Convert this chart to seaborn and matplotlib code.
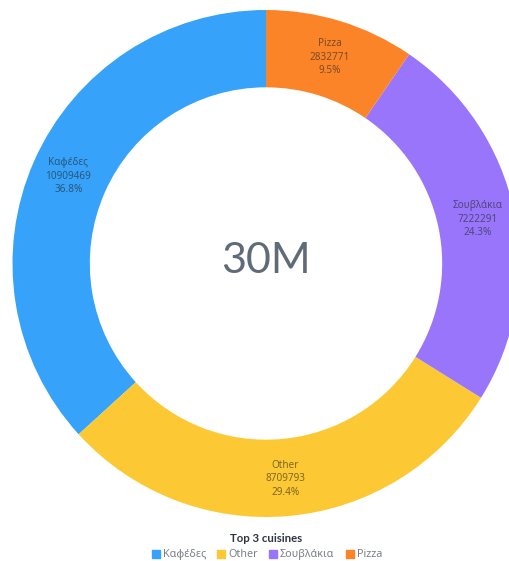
import matplotlib
matplotlib.use("Agg")
import matplotlib.pyplot as plt
from matplotlib.lines import Line2D
import numpy as np
import seaborn as sns

# Cuisine totals
categories = ["Καφέδες", "Other", "Σουβλάκια", "Pizza"]
values = [10909469, 8709793, 7222291, 2832771]
colors = ["#36a2fa", "#fcc833", "#9875fa", "#fc8428"]
legend_title = "Top 3 cuisines"

sns.set_theme(style="white")
plt.rcParams["font.family"] = ["Noto Sans", "DejaVu Sans"]
palette = sns.color_palette(colors)

W, H, DPI = 510, 561, 100
fig = plt.figure(figsize=(W / DPI, H / DPI), dpi=DPI)
fig.patch.set_facecolor("white")

# Donut: centre (266, 263.5) px, outer radius 253.5 px
cx, cy, R = 266, 263.5, 253.5
ax = fig.add_axes([(cx - R) / W, (H - cy - R) / H, 2 * R / W, 2 * R / H])

ring = 0.305
wedges, _ = ax.pie(values, colors=palette, startangle=90, counterclock=True,
                   radius=1.0, wedgeprops=dict(width=ring, linewidth=0))
ax.set_xlim(-1, 1)
ax.set_ylim(-1, 1)
ax.set_aspect("equal")
ax.axis("off")

total = sum(values)
r_lab = 1.0 - ring / 2 + 0.005
for w, name, v in zip(wedges, categories, values):
    ang = np.deg2rad((w.theta1 + w.theta2) / 2)
    ax.text(r_lab * np.cos(ang), r_lab * np.sin(ang),
            f"{name}\n{v}\n{100 * v / total:.1f}%",
            ha="center", va="center", fontsize=7.2, color="#222222",
            alpha=0.58, linespacing=1.3)

ax.text(0, 0.01, f"{total / 1e6:.0f}M", ha="center", va="center",
        fontsize=31, color="#5f6b77", family=["Lato", "DejaVu Sans"])

handles = [Line2D([0], [0], marker="s", linestyle="none", markersize=6,
                  markerfacecolor=c, markeredgecolor=c) for c in palette]
leg = fig.legend(handles, categories, loc="center", ncol=4,
                 bbox_to_anchor=(266 / W, 1 - 546.5 / H), frameon=False,
                 title=legend_title, fontsize=7.8, title_fontsize=8.2,
                 handletextpad=0.15, columnspacing=0.9, handlelength=1.0,
                 borderpad=0, labelspacing=0.55)
title = leg.get_title()
title.set_family(["Lato", "DejaVu Sans"])
title.set_fontweight("bold")
title.set_color("#2d3640")
for t in leg.get_texts():
    t.set_color("#7a8088")

fig.savefig("out.png", dpi=DPI, facecolor="white")
